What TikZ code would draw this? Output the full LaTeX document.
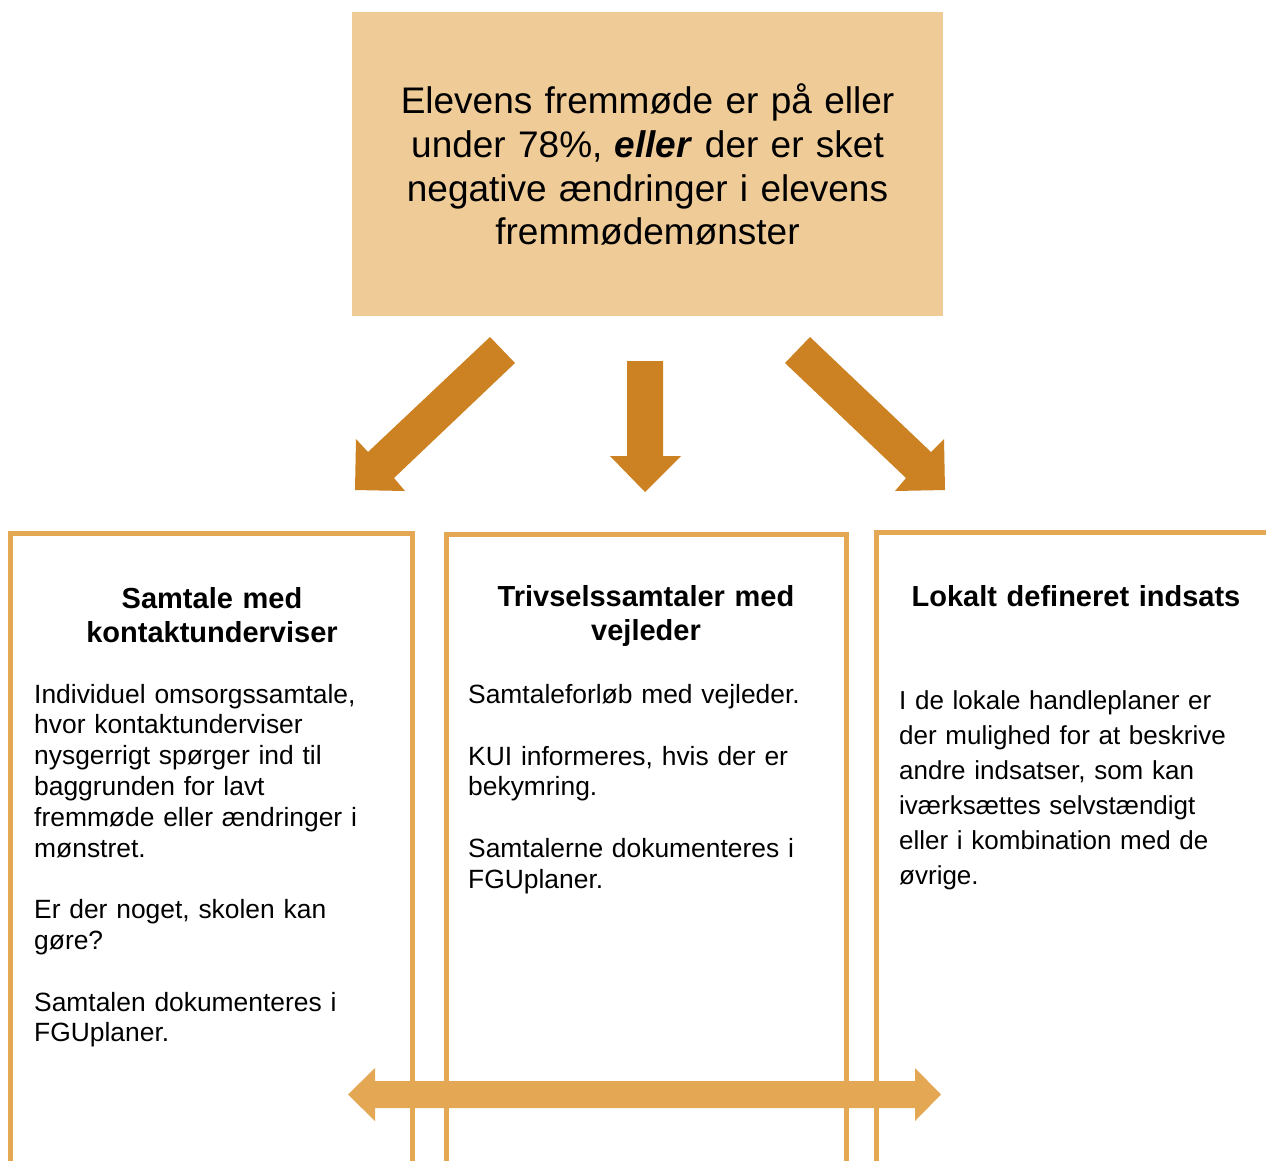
\documentclass[tikz,border=0pt]{standalone}
\usepackage{fontspec}
\setmainfont{Liberation Sans}
\definecolor{boxfill}{HTML}{EFCB98}
\definecolor{darkarrow}{HTML}{CC8222}
\definecolor{frameor}{HTML}{E4A854}
\tikzset{
  topbox/.style={fill=boxfill, draw=none, minimum width=591pt, minimum height=304pt, inner sep=0pt},
  toptext/.style={anchor=base, align=center, text width=580pt, inner sep=0pt, font=\fontsize{37}{43.7}\selectfont},
  headtext/.style={anchor=base, align=center, text width=390pt, inner sep=0pt, font=\bfseries\fontsize{29}{34.5}\selectfont},
  bodytext/.style={anchor=base west, align=left, text width=380pt, inner sep=0pt, font=\fontsize{26.4}{30.8}\selectfont},
  bodywide/.style={bodytext, font=\fontsize{26}{35}\selectfont},
  blockarrow/.style={fill=darkarrow, draw=none},
  frameline/.style={draw=frameor, line width=5pt},
  dblarrow/.style={fill=frameor, draw=none}
}
\begin{document}
\begin{tikzpicture}[x=1pt,y=-1pt]
\clip (0,0) rectangle (1266,1160);
\fill[white] (0,0) rectangle (1266,1160);

% top box
\node[topbox] (top) at (647.5,164) {};
\node[toptext] (toptxt) at (647.5,113.8) {Elevens fremmøde er på eller\\under 78\%, \textbf{\textit{eller}} der er sket\\negative ændringer i elevens\\fremmødemønster};

% three arrows
\fill[blockarrow] (490,337) -- (515,363) -- (394,478) -- (405,491) -- (355,490) -- (356,439) -- (368,452) -- cycle;
\fill[blockarrow] (627,361) -- (663,361) -- (663,456) -- (681,456) -- (645,492) -- (610,456) -- (627,456) -- cycle;
\fill[blockarrow] (810,337) -- (785,363) -- (906,478) -- (895,491) -- (945,490) -- (944,439) -- (931,452) -- cycle;

% double arrow
\fill[dblarrow] (348,1094.5) -- (375,1068) -- (375,1081) -- (915,1081) -- (915,1068) -- (941,1094.5) -- (915,1121) -- (915,1108) -- (375,1108) -- (375,1121) -- cycle;

% frames
\draw[frameline] (10.5,1170) -- (10.5,533.5) -- (412.5,533.5) -- (412.5,1170);
\draw[frameline] (446,1170) -- (446,534) -- (846,534) -- (846,1170);
\draw[frameline] (876,1170) -- (876,532) -- (1275,532);

% headers
\node[headtext] (h1) at (212,608) {Samtale med\\kontaktunderviser};
\node[headtext] (h2) at (646,606) {Trivselssamtaler med\\vejleder};
\node[headtext] (h3) at (1076,606) {Lokalt defineret indsats};

% bodies
\node[bodytext] (b1) at (34,703) {Individuel omsorgssamtale,\\hvor kontaktunderviser\\nysgerrigt spørger ind til\\baggrunden for lavt\\fremmøde eller ændringer i\\mønstret.\\[30.8pt]Er der noget, skolen kan\\gøre?\\[30.8pt]Samtalen dokumenteres i\\FGUplaner.};
\node[bodytext] (b2) at (468,703.5) {Samtaleforløb med vejleder.\\[30.8pt]KUI informeres, hvis der er\\bekymring.\\[30.8pt]Samtalerne dokumenteres i\\FGUplaner.};
\node[bodywide] (b3) at (899,709) {I de lokale handleplaner er\\der mulighed for at beskrive\\andre indsatser, som kan\\iværksættes selvstændigt\\eller i kombination med de\\øvrige.};
\end{tikzpicture}
\end{document}
